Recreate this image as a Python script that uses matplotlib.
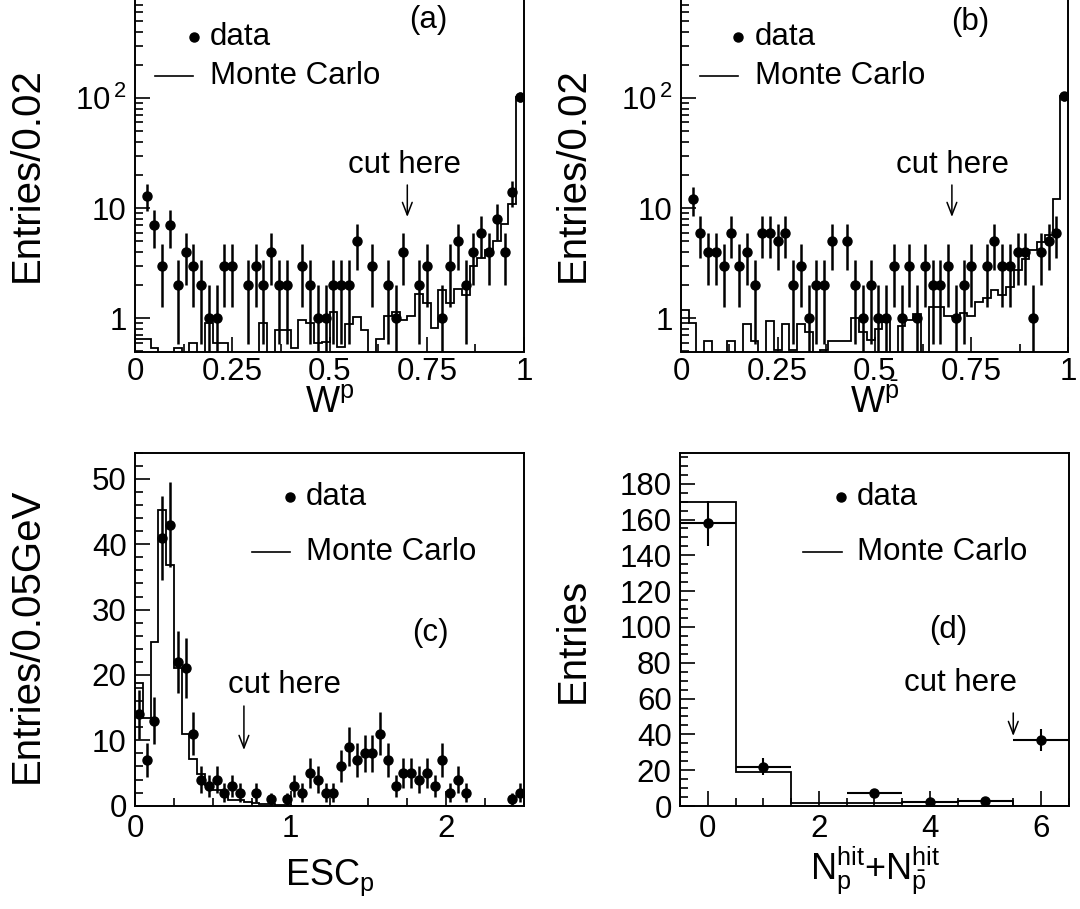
import numpy as np
import matplotlib
matplotlib.use('Agg')
import matplotlib.pyplot as plt
from matplotlib.lines import Line2D
from matplotlib.ticker import MultipleLocator, FixedLocator, NullFormatter, LogLocator

plt.rcParams['font.family'] = ['Liberation Sans', 'DejaVu Sans']
plt.rcParams['mathtext.fontset'] = 'custom'
plt.rcParams['mathtext.rm'] = 'Liberation Sans'
plt.rcParams['mathtext.it'] = 'Liberation Sans'
plt.rcParams['mathtext.bf'] = 'Liberation Sans:bold'

# ---------------- data ----------------
# (a) W^p, 50 bins of 0.02
wp_data = [0, 13, 7, 3, 7, 2, 4, 3, 2, 1,
           1, 3, 3, 0, 2, 3, 2, 4, 2, 2,
           0, 3, 2, 1, 1, 2, 2, 2, 5, 0,
           3, 0, 2, 1, 4, 0, 2, 3, 0, 1,
           3, 5, 2, 4, 6, 4, 8, 4, 14, 103]
wp_mc = [0.65, 0.65, 0.54, 0, 0, 0.54, 0, 0.6, 0, 0.91,
         0.6, 0.6, 0, 0, 0, 0, 0.91, 0, 0.78, 0.78,
         0.54, 0.96, 0.91, 0.6, 0.61, 1.14, 0.55, 0.89, 1.03, 0.78,
         0, 0.65, 1.06, 1.14, 0.96, 1.06, 1.68, 1.39, 0.81, 1.80,
         1.39, 1.86, 1.62, 2.97, 3.56, 4.15, 5.0, 7.26, 10.9, 103]
# (b) W^pbar
wpb_data = [0, 12, 6, 4, 4, 3, 6, 3, 4, 2,
            6, 6, 5, 6, 2, 3, 1, 2, 2, 5,
            0, 5, 2, 1, 2, 1, 1, 3, 1, 3,
            1, 3, 2, 2, 3, 1, 2, 3, 0, 3,
            5, 3, 3, 4, 4, 1, 4, 5, 6, 104]
wpb_mc = [1.18, 0.9, 0, 0.62, 0, 0, 0.62, 0, 0.88, 0.62,
          0, 0.94, 0.52, 0.88, 0.52, 0.88, 0.75, 0, 0.52, 0.62,
          0.62, 0.62, 1.0, 0.75, 0.63, 0.8, 0.93, 0, 0.86, 0.96,
          1.1, 0, 1.27, 1.27, 1.06, 1.03, 1.12, 1.06, 1.41, 1.54,
          1.8, 1.62, 1.93, 2.77, 3.49, 4.2, 4.95, 5.69, 12.0, 104]
# (c) ESC_p, 50 bins of 0.05 GeV
esc_data = [14, 7, 13, 41, 43, 22, 21, 11, 4, 3,
            4, 2, 3, 2, 0, 2, 0, 1, 0, 1,
            3, 2, 5, 4, 2, 2, 6, 9, 7, 8,
            8, 11, 7, 3, 5, 5, 4, 5, 3, 7,
            2, 4, 2, 0, 0, 0, 0, 0, 1, 2]
esc_mc = [18.8, 13.4, 25.0, 45.3, 36.8, 21.0, 11.0, 7.1, 4.8, 3.2,
          2.4, 1.6, 0.9, 0.9, 0.56, 0.4, 0.2, 0.2, 0.15, 0.1,
          0, 0, 0, 0, 0, 0, 0, 0, 0, 0,
          0, 0, 0, 0, 0, 0, 0, 0, 0, 0,
          0, 0, 0, 0, 0, 0, 0, 0, 0, 0]
# (d) N_hit
nhit_x = [0, 1, 2, 3, 4, 5, 6]
nhit_data = [158, 22, 0, 7, 2, 3, 37]
nhit_mc = [170, 19.2, 1.5, 1.9, 2.1, 3.0, 0]

CUT_W = 0.7
CUT_ESC = 0.7
CUT_N = 5.5

W, H = 1080, 909
fig = plt.figure(figsize=(W / 100, H / 100), dpi=100)

FS = 22.5
YLFS = 29
XLFS = 26


def px_axes(l, r, t, b):
    return fig.add_axes([l / W, 1 - b / H, (r - l) / W, (b - t) / H])


def fig_text(x, y, s, **kw):
    kw.setdefault('fontsize', FS)
    kw.setdefault('va', 'center')
    fig.text(x / W, 1 - y / H, s, **kw)


def legend(xm, ym, xl1, xl2, yl, xt):
    fig.add_artist(Line2D([xm / W], [1 - ym / H], marker='o', color='black',
                          markersize=6.5, transform=fig.transFigure))
    fig_text(xt, ym, 'data', ha='left')
    fig.add_artist(Line2D([xl1 / W, xl2 / W], [1 - yl / H, 1 - yl / H], color='black',
                          lw=1.2, transform=fig.transFigure))
    fig_text(xt, yl, 'Monte Carlo', ha='left')


def style(ax):
    for s in ax.spines.values():
        s.set_linewidth(1.4)
    ax.tick_params(which='both', direction='in', top=False, right=False,
                   labelsize=FS, width=1.2)
    ax.tick_params(which='major', length=11, pad=6)
    ax.tick_params(which='minor', length=6)


def arrow(ax, x, y_tail_px, y_tip_px, t_px, b_px):
    ya = lambda y: (b_px - y) / (b_px - t_px)
    ax.annotate('', xy=(x, ya(y_tip_px)), xytext=(x, ya(y_tail_px)),
                xycoords=ax.get_xaxis_transform(),
                textcoords=ax.get_xaxis_transform(),
                arrowprops=dict(arrowstyle='->,head_length=0.9,head_width=0.35',
                                color='black', lw=1.1, shrinkA=0, shrinkB=0))


def log_panel(l, r, data, mc, letter, xlab, ylab, leg, letter_pos, cut_pos, ylab_x, xlab_y):
    t, b = -2, 351.5
    ax = px_axes(l, r, t, b)
    edges = np.linspace(0, 1, len(data) + 1)
    centers = 0.5 * (edges[:-1] + edges[1:])
    mcv = np.array(mc, dtype=float)
    mcv = np.where(mcv > 0, mcv, 1e-3)
    ax.stairs(mcv, edges, color='black', lw=1.3, baseline=None)
    d = np.array(data, dtype=float)
    m = d > 0
    err = np.sqrt(d[m])
    lo = np.minimum(err, d[m] - 1e-3)
    ax.errorbar(centers[m], d[m], yerr=[lo, err], fmt='o', color='black',
                markersize=6.5, elinewidth=1.8, capsize=0)
    ax.set_yscale('log')
    ax.set_ylim(0.5, 810)
    ax.set_xlim(0, 1)
    ax.yaxis.set_major_locator(FixedLocator([1, 10, 100]))
    ax.set_yticklabels(['1', '10', r'$\mathregular{10^{\,2}}$'])
    ax.yaxis.set_minor_locator(LogLocator(base=10, subs=np.arange(2, 10)))
    ax.yaxis.set_minor_formatter(NullFormatter())
    ax.xaxis.set_major_locator(FixedLocator([0, 0.25, 0.5, 0.75, 1]))
    ax.set_xticklabels(['0', '0.25', '0.5', '0.75', '1'])
    ax.xaxis.set_minor_locator(MultipleLocator(0.125))
    style(ax)
    ax.tick_params(axis='x', which='major', pad=4)
    legend(*leg)
    fig_text(letter_pos[0], letter_pos[1], letter, ha='center')
    fig_text(cut_pos[0], cut_pos[1], 'cut here', ha='center')
    arrow(ax, CUT_W, 185, 217, t, b)
    fig_text(ylab_x, 175, ylab, ha='center', rotation=90, fontsize=YLFS)
    fig_text((l + r) / 2, xlab_y, xlab, ha='center', fontsize=XLFS)
    return ax


log_panel(135, 524, wp_data, wp_mc, '(a)', r'$\mathregular{W^{p}}$', 'Entries/0.02',
          (194, 37, 155, 193, 76, 210), (428, 20), (405, 165), 27, 403)
log_panel(681, 1068, wpb_data, wpb_mc, '(b)', r'$\mathregular{W^{\bar{p}}}$', 'Entries/0.02',
          (738, 37, 700, 738, 76, 755), (970, 22), (952, 165), 573, 403)

# (c)
t, b = 452.7, 805.7
axc = px_axes(135, 524, t, b)
edges = np.linspace(0, 2.5, len(esc_data) + 1)
centers = 0.5 * (edges[:-1] + edges[1:])
axc.stairs(esc_mc, edges, color='black', lw=1.3, baseline=None)
d = np.array(esc_data, dtype=float)
m = d > 0
axc.errorbar(centers[m], d[m], yerr=np.sqrt(d[m]), fmt='o', color='black',
             markersize=6.5, elinewidth=1.8, capsize=0)
axc.set_xlim(0, 2.5)
axc.set_ylim(0, 54)
axc.xaxis.set_major_locator(MultipleLocator(1))
axc.xaxis.set_minor_locator(MultipleLocator(0.25))
axc.yaxis.set_major_locator(MultipleLocator(10))
axc.yaxis.set_minor_locator(MultipleLocator(2))
style(axc)
legend(290, 497, 252, 290, 552, 306)
fig_text(430, 633, '(c)', ha='center')
fig_text(285, 685, 'cut here', ha='center')
arrow(axc, CUT_ESC, 706, 750, t, b)
fig_text(27, 635, 'Entries/0.05GeV', ha='center', rotation=90, fontsize=YLFS)
fig_text(330, 878, r'$\mathregular{ESC_{p}}$', ha='center', fontsize=XLFS)

# (d)
t, b = 453.3, 806
axd = px_axes(680, 1068.8, t, b)
edges = np.arange(-0.5, 7.0, 1.0)
axd.stairs(nhit_mc, edges, color='black', lw=1.3, baseline=0)
d = np.array(nhit_data, dtype=float)
x = np.array(nhit_x, dtype=float)
m = d > 0
axd.errorbar(x[m], d[m], yerr=np.sqrt(d[m]), xerr=0.5, fmt='o', color='black',
             markersize=6.5, elinewidth=1.5, capsize=0)
axd.set_xlim(-0.5, 6.5)
axd.set_ylim(0, 197)
axd.xaxis.set_major_locator(MultipleLocator(2))
axd.xaxis.set_minor_locator(MultipleLocator(0.5))
axd.yaxis.set_major_locator(MultipleLocator(20))
axd.yaxis.set_minor_locator(MultipleLocator(5))
style(axd)
legend(841, 497, 803, 842, 552, 857)
fig_text(948, 630, '(d)', ha='center')
fig_text(960, 683, 'cut here', ha='center')
arrow(axd, CUT_N, 713, 736, t, b)
fig_text(573, 640, 'Entries', ha='center', rotation=90, fontsize=YLFS)
fig_text(875, 870, r'$\mathregular{N_{p}^{hit}}$+$\mathregular{N_{\bar{p}}^{hit}}$',
         ha='center', fontsize=XLFS)

fig.savefig('out.png', dpi=100)
